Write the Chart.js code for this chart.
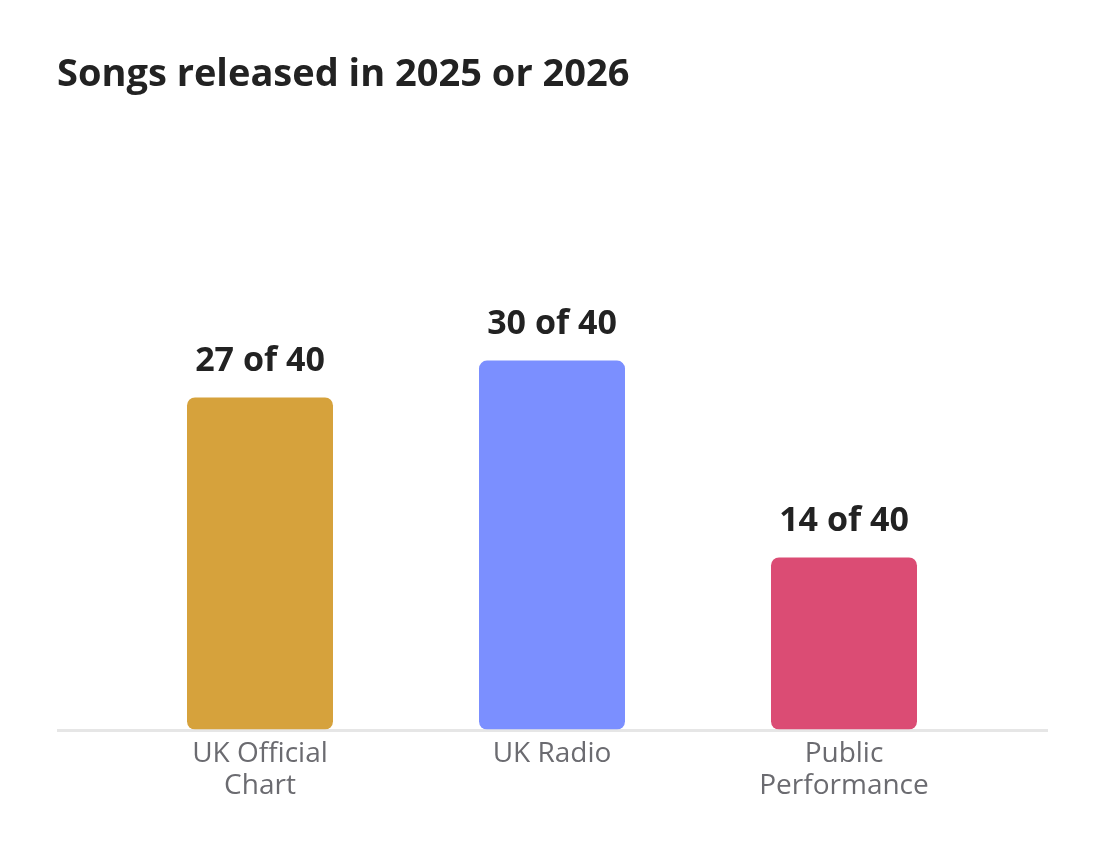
<!DOCTYPE html>
<html>
<head>
<meta charset="utf-8">
<script src="https://cdn.jsdelivr.net/npm/chart.js@4"></script>
<style>
  html, body { margin: 0; padding: 0; background: #fff; }
  #wrap { width: 1104px; height: 856px; }
</style>
</head>
<body>
<div id="wrap"><canvas id="chart"></canvas></div>
<script>
const categories = [['UK Official', 'Chart'], ['UK Radio'], ['Public', 'Performance']];
const songCounts = [27, 30, 14];
const totalSongs = 40;
const barColors = ['#D6A23C', '#7B8FFF', '#DB4C74'];

const FONT = "'Open Sans', 'Noto Sans', sans-serif";

// light grey baseline across the whole width
const baseline = {
    id: 'baseline',
    beforeDatasetsDraw(chart) {
        const ctx = chart.ctx;
        const y = chart.scales.y.getPixelForValue(0) + 1;
        ctx.save();
        ctx.strokeStyle = '#e6e6e6';
        ctx.lineWidth = 3;
        ctx.beginPath();
        ctx.moveTo(57, y);
        ctx.lineTo(1048, y);
        ctx.stroke();
        ctx.restore();
    }
};

// "27 of 40" labels above bars
const valueLabels = {
    id: 'valueLabels',
    afterDatasetsDraw(chart) {
        const ctx = chart.ctx;
        const meta = chart.getDatasetMeta(0);
        ctx.save();
        ctx.font = `bold 34px ${FONT}`;
        ctx.fillStyle = '#222222';
        ctx.textAlign = 'center';
        ctx.textBaseline = 'bottom';
        meta.data.forEach((bar, i) => {
            ctx.fillText(`${songCounts[i]} of ${totalSongs}`, bar.x, bar.y - 19);
        });
        ctx.restore();
    }
};

new Chart(document.getElementById('chart'), {
    type: 'bar',
    data: {
        labels: categories,
        datasets: [{
            data: songCounts,
            backgroundColor: barColors,
            borderRadius: 8,
            borderSkipped: false,
            categoryPercentage: 1,
            barPercentage: 0.5
        }]
    },
    options: {
        responsive: true,
        maintainAspectRatio: false,
        animation: false,
        layout: { padding: { left: 57, right: 114, top: 0, bottom: 54 } },
        plugins: {
            legend: { display: false },
            tooltip: { enabled: false },
            title: {
                display: true,
                text: 'Songs released in 2025 or 2026',
                align: 'start',
                color: '#222222',
                font: { family: FONT, size: 38, weight: 'bold' },
                padding: { top: 52, bottom: 140 }
            }
        },
        scales: {
            x: {
                grid: { display: false },
                border: { display: false },
                ticks: {
                    color: '#6b6b70',
                    font: { family: FONT, size: 28, lineHeight: 1.15 },
                    padding: 0,
                    maxRotation: 0
                }
            },
            y: {
                min: 0,
                max: 40,
                grid: { display: false },
                border: { display: false },
                ticks: { display: false },
                afterFit(scale) { scale.width = 57; }
            }
        }
    },
    plugins: [baseline, valueLabels]
});
</script>
</body>
</html>
